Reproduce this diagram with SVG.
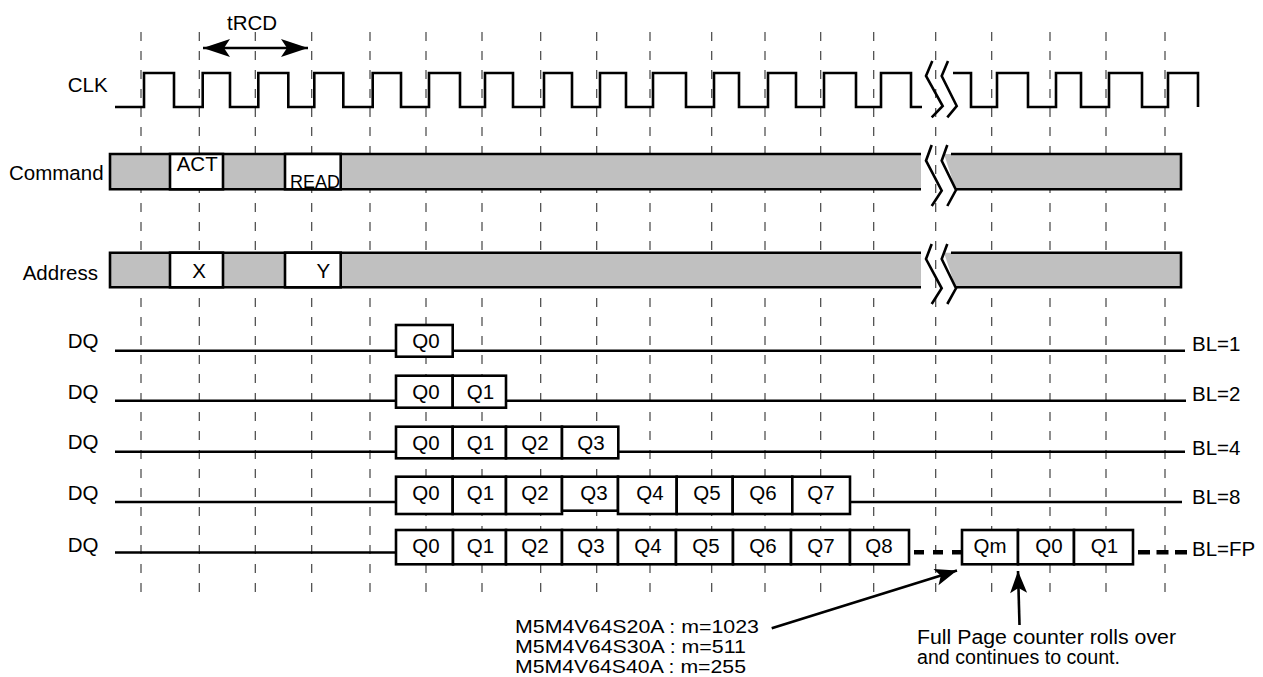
<svg xmlns="http://www.w3.org/2000/svg" width="1263" height="677" viewBox="0 0 1263 677">
<defs>
<style>
text{font-family:"Liberation Sans",Arial,Helvetica,sans-serif;font-size:20.5px;fill:#000}
.mid{text-anchor:middle}
.part{font-size:18px}
.note{font-size:19.5px}
.grid{stroke:#444;stroke-width:1.2;stroke-dasharray:9 10;fill:none}
.sig{stroke:#000;stroke-width:2.6;fill:none;stroke-linejoin:miter}
.bar{fill:#c0c0c0;stroke:none}
.cell{fill:#fff;stroke:#000;stroke-width:2.6}
.wave{stroke:#000;stroke-width:2.6;fill:none}
.thick{stroke:#000;stroke-width:4.5;fill:none}
.arrow{stroke:#000;stroke-width:2.6;fill:none}
</style>
<marker id="head" viewBox="-28 -10 29 20" markerWidth="29" markerHeight="20" refX="0" refY="0" orient="auto-start-reverse" markerUnits="userSpaceOnUse">
<path d="M0,0 L-27,-9 L-21,0 L-27,9 Z" fill="#000"/>
</marker>
<marker id="head2" viewBox="-24 -10 25 20" markerWidth="25" markerHeight="20" refX="0" refY="0" orient="auto" markerUnits="userSpaceOnUse">
<path d="M0,0 L-22,-8.5 L-17,0 L-22,8.5 Z" fill="#000"/>
</marker>
</defs>
<rect width="1263" height="677" fill="#fff"/>

<g id="grid">
<path class="grid" d="M141,32V600M199.3,32V600M255.3,32V600M311.7,32V600M370,32V600M426,32V600M482,32V600M540.7,32V600M596.7,32V600M650,32V600M711.7,32V600M765,32V600M820.7,32V600M873.7,32V600M935.7,32V600M991.7,32V600M1050,32V600M1106,32V600M1165,32V600"/>
</g>

<g id="clk">
<text x="67.7" y="92">CLK</text>
<path class="sig" d="M115,107H144V73H174V107H202.7V73H230V107H258.3V73H288.3V107H314.3V73H343.3V107H372.7V73H401V107H429V73H460V107H485V73H513V107H544V73H572V107H600V73H626V107H653V73H686V107H714V73H739V107H768V73H796V107H824V73H856V107H881V73H911V107H922"/>
<path class="sig" d="M953,73H971V107H997V73H1028V107H1056V73H1081V107H1109V73H1142V107H1168V73H1198V107"/>
<path class="wave" d="M932.3,61L926,76L942.7,106L931.7,117.3M948,61L941.7,76L956.7,106L947.3,117.3"/>
</g>

<g id="command">
<text x="9" y="180">Command</text>
<rect class="bar" x="110" y="154" width="811" height="35.3"/>
<path class="sig" d="M921,154H110V189.3H921"/>
<polygon class="bar" points="944,154 1181,154 1181,189.3 955.5,189.3"/>
<path class="sig" d="M951,154H1181V189.3H955"/>
<rect class="cell" x="170" y="154" width="53" height="35.3"/>
<text x="176.7" y="171">ACT</text>
<rect class="cell" x="285" y="154" width="55.7" height="35.3"/>
<text x="290" y="188" style="font-size:18px">READ</text>
<path class="wave" d="M931.7,145L926,160.7L941.7,190.7L931.7,206M947.3,145L941.7,160.7L956,190L947.3,206"/>
</g>

<g id="address">
<text x="22.7" y="280">Address</text>
<rect class="bar" x="110" y="252.7" width="811" height="34.6"/>
<path class="sig" d="M921,252.7H110V287.3H921"/>
<polygon class="bar" points="944,252.7 1181,252.7 1181,287.3 955.5,287.3"/>
<path class="sig" d="M951,252.7H1181V287.3H955"/>
<rect class="cell" x="170" y="252.7" width="53" height="34.6"/>
<text class="mid" x="199" y="278.3">X</text>
<rect class="cell" x="285" y="252.7" width="55.7" height="34.6"/>
<text class="mid" x="323.3" y="278.3">Y</text>
<path class="wave" d="M931.7,244L926,259L941.7,288.3L931.7,304M947.3,244L941.7,259L956,288.3L947.3,304"/>
</g>

<g id="dq-bl1">
<text x="67.7" y="348">DQ</text>
<path class="sig" d="M115,350.7H396M452.7,350.7H1185"/>
<rect class="cell" x="396" y="325" width="56.7" height="31.7"/>
<text class="mid" x="426" y="348">Q0</text>
<text x="1192" y="351">BL=1</text>
</g>

<g id="dq-bl2">
<text x="67.7" y="399">DQ</text>
<path class="sig" d="M115,400.7H396M506,400.7H1186"/>
<rect class="cell" x="396" y="375.7" width="56.7" height="32"/>
<rect class="cell" x="452.7" y="375.7" width="53.3" height="32"/>
<text class="mid" x="426" y="399">Q0</text>
<text class="mid" x="480.5" y="399">Q1</text>
<text x="1192" y="401">BL=2</text>
</g>

<g id="dq-bl4">
<text x="67.7" y="449">DQ</text>
<path class="sig" d="M115,451.7H396M618.3,451.7H1185"/>
<rect class="cell" x="396" y="426.7" width="56.7" height="31.6"/>
<rect class="cell" x="452.7" y="426.7" width="53.3" height="31.6"/>
<rect class="cell" x="506" y="426.7" width="56" height="31.6"/>
<rect class="cell" x="562" y="426.7" width="56.3" height="31.6"/>
<text class="mid" x="426" y="449.5">Q0</text>
<text class="mid" x="480.5" y="449.5">Q1</text>
<text class="mid" x="535" y="449.5">Q2</text>
<text class="mid" x="591" y="449.5">Q3</text>
<text x="1192" y="455">BL=4</text>
</g>

<g id="dq-bl8">
<text x="67.7" y="500">DQ</text>
<path class="sig" d="M115,502H396M850,502H1182"/>
<rect class="cell" x="396" y="476.7" width="56.7" height="37.3"/>
<rect class="cell" x="452.7" y="476.7" width="53.3" height="37.3"/>
<rect class="cell" x="506" y="476.7" width="56" height="37.3"/>
<rect class="cell" x="562" y="476.7" width="56" height="34"/>
<rect class="cell" x="618" y="476.7" width="58.7" height="37.3"/>
<rect class="cell" x="676.7" y="476.7" width="56" height="37.3"/>
<rect class="cell" x="732.7" y="476.7" width="59.6" height="37.3"/>
<rect class="cell" x="792.3" y="476.7" width="57.7" height="37.3"/>
<text class="mid" x="426" y="500">Q0</text>
<text class="mid" x="480.5" y="500">Q1</text>
<text class="mid" x="535" y="500">Q2</text>
<text class="mid" x="594" y="500">Q3</text>
<text class="mid" x="650" y="500">Q4</text>
<text class="mid" x="707" y="500">Q5</text>
<text class="mid" x="763" y="500">Q6</text>
<text class="mid" x="821" y="500">Q7</text>
<text x="1192" y="504">BL=8</text>
</g>

<g id="dq-blfp">
<text x="67.7" y="552">DQ</text>
<path class="sig" d="M115,552.5H396"/>
<rect class="cell" x="396" y="530" width="57" height="34.3"/>
<rect class="cell" x="453" y="530" width="53" height="34.3"/>
<rect class="cell" x="506" y="530" width="56" height="34.3"/>
<rect class="cell" x="562" y="530" width="56" height="34.3"/>
<rect class="cell" x="618" y="530" width="58" height="34.3"/>
<rect class="cell" x="676" y="530" width="57" height="34.3"/>
<rect class="cell" x="733" y="530" width="58" height="34.3"/>
<rect class="cell" x="791" y="530" width="59" height="34.3"/>
<rect class="cell" x="850" y="530" width="59" height="34.3"/>
<text class="mid" x="426" y="553">Q0</text>
<text class="mid" x="480.5" y="553">Q1</text>
<text class="mid" x="535" y="553">Q2</text>
<text class="mid" x="591" y="553">Q3</text>
<text class="mid" x="648" y="553">Q4</text>
<text class="mid" x="706" y="553">Q5</text>
<text class="mid" x="763" y="553">Q6</text>
<text class="mid" x="821" y="553">Q7</text>
<text class="mid" x="879" y="553">Q8</text>
<path class="thick" d="M914,552.3H962" stroke-dasharray="10 9"/>
<rect class="cell" x="962" y="530" width="56" height="34.3"/>
<rect class="cell" x="1018" y="530" width="56" height="34.3"/>
<rect class="cell" x="1074" y="530" width="59" height="34.3"/>
<text class="mid" x="990" y="553">Qm</text>
<text class="mid" x="1049" y="553">Q0</text>
<text class="mid" x="1104.5" y="553">Q1</text>
<path class="thick" d="M1138,552.3H1187" stroke-dasharray="12 6.5"/>
<text x="1192" y="556">BL=FP</text>
</g>

<g id="notes">
<text x="227" y="30">tRCD</text>
<text class="part" x="515" y="632.5" textLength="244" lengthAdjust="spacingAndGlyphs">M5M4V64S20A : m=1023</text>
<text class="part" x="515" y="652.5" textLength="231" lengthAdjust="spacingAndGlyphs">M5M4V64S30A : m=511</text>
<text class="part" x="515" y="672.5" textLength="231" lengthAdjust="spacingAndGlyphs">M5M4V64S40A : m=255</text>
<text class="note" x="917" y="644" textLength="259" lengthAdjust="spacingAndGlyphs">Full Page counter rolls over</text>
<text class="note" x="917" y="664" textLength="203" lengthAdjust="spacingAndGlyphs">and continues to count.</text>
</g>

<g id="connectors">
<path class="arrow" d="M203,48H308" marker-start="url(#head)" marker-end="url(#head)"/>
<path class="arrow" d="M771.7,628.3L957,570.6" marker-end="url(#head2)"/>
<path class="arrow" d="M1019.5,625L1018,571" marker-end="url(#head2)"/>
</g>
</svg>
